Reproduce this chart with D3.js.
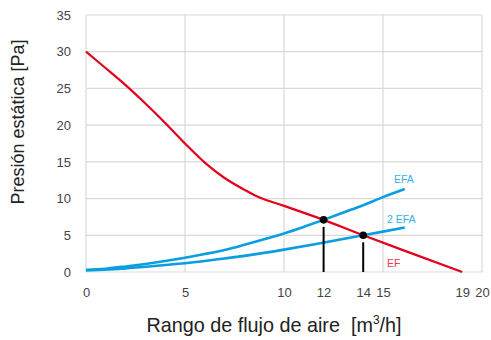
<!DOCTYPE html>
<html><head><meta charset="utf-8">
<script src="https://cdn.jsdelivr.net/npm/d3@7"></script>
<style>body{margin:0;background:#fff}svg{display:block;font-family:"Liberation Sans",Arial,sans-serif}</style>
</head><body>
<svg id="c" width="491" height="340"></svg>
<script>
const efX = [0, 1, 2, 3, 4, 5, 6, 7, 8, 8.8, 10, 12, 14, 19];
const efY = [30, 27.75, 25.45, 22.95, 20.3, 17.5, 14.9, 12.8, 11.2, 10.1, 9.0, 7.1, 5.0, 0];
const efaX = [0, 1, 2, 3, 4, 5, 6, 7, 8, 9, 10, 11, 12, 13, 14, 15, 16.1];
const efaY = [0.3, 0.45, 0.75, 1.1, 1.5, 1.95, 2.45, 3.0, 3.7, 4.45, 5.25, 6.15, 7.1, 8.1, 9.1, 10.2, 11.3];
const efa2X = [0, 2, 4, 5, 6, 7, 8, 10, 12, 14, 16.1];
const efa2Y = [0.2, 0.5, 0.95, 1.2, 1.5, 1.85, 2.2, 3.05, 4.0, 5.0, 6.05];
const opPointsX = [12, 14];
const opPointsY = [7.1, 5.0];
const xTicks = [0, 5, 10, 12, 14, 15, 19, 20];
const xGrid = [0, 5, 10, 15, 20];
const yTicks = [0, 5, 10, 15, 20, 25, 30, 35];

const svg = d3.select("#c");
const x = d3.scaleLinear().domain([0, 20]).range([86, 482]);
const y = d3.scaleLinear().domain([0, 35]).range([272, 15]);

// grid
svg.append("g").selectAll("line").data(yTicks).join("line")
  .attr("x1", x(0)).attr("x2", x(20)).attr("y1", d => y(d)).attr("y2", d => y(d))
  .attr("stroke", "#d9d9d9").attr("stroke-width", 1.2);
svg.append("g").selectAll("line").data(xGrid).join("line")
  .attr("y1", y(0)).attr("y2", y(35)).attr("x1", d => x(d)).attr("x2", d => x(d))
  .attr("stroke", "#d9d9d9").attr("stroke-width", 1.2);

// axes labels
const yAxis = d3.axisLeft(y).tickValues(yTicks).tickSize(0).tickPadding(15);
const gy = svg.append("g").attr("transform", `translate(${x(0)},0)`).call(yAxis);
gy.select(".domain").remove();
gy.selectAll("text").attr("font-size", 13).attr("fill", "#444").attr("font-family", "Liberation Sans, Arial, sans-serif");

const xAxis = d3.axisBottom(x).tickValues(xTicks).tickSize(0).tickPadding(16);
const gx = svg.append("g").attr("transform", `translate(0,${y(0)})`).call(xAxis);
gx.select(".domain").remove();
gx.selectAll("text").attr("font-size", 13).attr("fill", "#444").attr("font-family", "Liberation Sans, Arial, sans-serif");

const line = d3.line().x(d => x(d[0])).y(d => y(d[1])).curve(d3.curveCatmullRom.alpha(0.5));
const zip = (a, b) => a.map((v, i) => [v, b[i]]);

const blue = "#0a9ee0", red = "#e3001b";
svg.append("path").datum(zip(efa2X, efa2Y)).attr("d", line).attr("fill", "none").attr("stroke", blue).attr("stroke-width", 2.6);
svg.append("path").datum(zip(efaX, efaY)).attr("d", line).attr("fill", "none").attr("stroke", blue).attr("stroke-width", 2.6);
svg.append("path").datum(zip(efX, efY)).attr("d", line).attr("fill", "none").attr("stroke", red).attr("stroke-width", 2.2);

// drop lines and points
const pts = zip(opPointsX, opPointsY);
svg.append("g").selectAll("line").data(pts).join("line")
  .attr("x1", d => x(d[0])).attr("x2", d => x(d[0]))
  .attr("y1", d => y(d[1]) + 7).attr("y2", y(0))
  .attr("stroke", "#000").attr("stroke-width", 2);
svg.append("g").selectAll("circle").data(pts).join("circle")
  .attr("cx", d => x(d[0])).attr("cy", d => y(d[1])).attr("r", 3.8).attr("fill", "#000");

// series labels
svg.append("text").attr("x", 394).attr("y", 183).attr("font-size", 10.5).attr("fill", "#3aaee6").text("EFA");
svg.append("text").attr("x", 387).attr("y", 223).attr("font-size", 10.5).attr("fill", "#3aaee6").text("2 EFA");
svg.append("text").attr("x", 387).attr("y", 267).attr("font-size", 10.5).attr("fill", "#e8404f").text("EF");

// titles
svg.append("text").attr("transform", "translate(24,122) rotate(-90)").attr("text-anchor", "middle")
  .attr("font-size", 18).attr("fill", "#222").text("Presión estática [Pa]");
const xt = svg.append("text").attr("x", 274).attr("y", 332).attr("text-anchor", "middle")
  .attr("font-size", 19.8).attr("fill", "#222").attr("xml:space", "preserve");
xt.append("tspan").text("Rango de flujo de aire  [m");
xt.append("tspan").attr("font-size", 12).attr("dy", -8).text("3");
xt.append("tspan").attr("dy", 8).text("/h]");
</script>
</body></html>
